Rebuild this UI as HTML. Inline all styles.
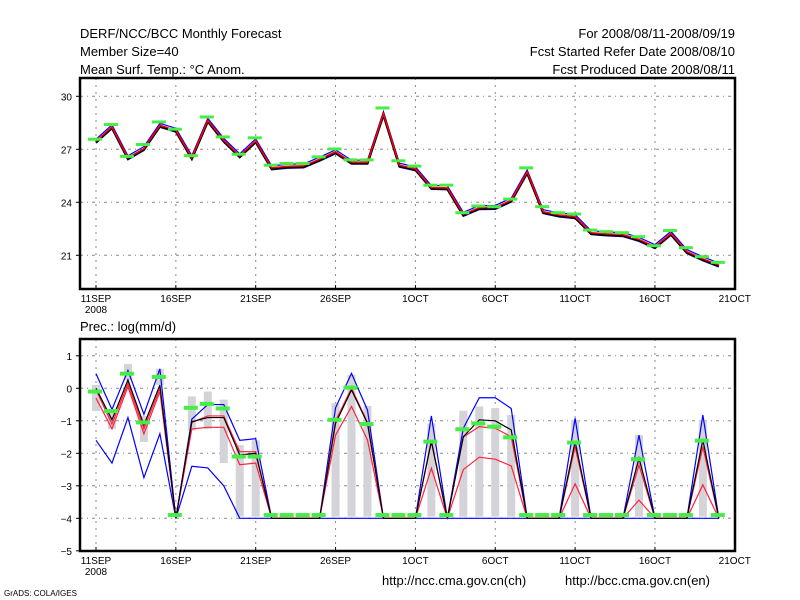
<!DOCTYPE html>
<html><head><meta charset="utf-8"><style>
body{margin:0;background:#fff;}
svg{display:block;font-family:"Liberation Sans",sans-serif;}
.t{font-size:13px;fill:#000;}
.s{font-size:10px;fill:#000;}
</style></head><body>
<svg id="c" width="800" height="600" xmlns="http://www.w3.org/2000/svg">
<rect width="800" height="600" fill="#fff"/>
<text class="t" x="80" y="38">DERF/NCC/BCC Monthly Forecast</text>
<text class="t" x="80" y="56">Member Size=40</text>
<text class="t" x="80" y="74">Mean Surf. Temp.: °C Anom.</text>
<text class="t" x="735" y="38" text-anchor="end">For 2008/08/11-2008/09/19</text>
<text class="t" x="735" y="56" text-anchor="end">Fcst Started Refer Date 2008/08/10</text>
<text class="t" x="735" y="74" text-anchor="end">Fcst Produced Date 2008/08/11</text>
<text class="t" x="80" y="331">Prec.: log(mm/d)</text>
<text class="t" x="382" y="585">http://ncc.cma.gov.cn(ch)</text>
<text class="t" x="565" y="585">http://bcc.cma.gov.cn(en)</text>
<text x="4" y="596" style="font-size:8px">GrADS: COLA/IGES</text>
<g id="top"></g><g id="bot"></g>
</svg>
<script>
const xLabels=["11SEP","16SEP","21SEP","26SEP","1OCT","6OCT","11OCT","16OCT","21OCT"];
const tTicks=[30,27,24,21];
const pTicks=[1,0,-1,-2,-3,-4,-5];
const tMean=[27.46,28.27,26.52,27.04,28.36,28.08,26.53,28.64,27.51,26.63,27.48,25.95,26.04,26.06,26.44,26.86,26.27,26.27,29.02,26.1,25.9,24.84,24.82,23.32,23.7,23.71,24.12,25.72,23.47,23.28,23.19,22.28,22.21,22.17,21.9,21.49,22.24,21.21,20.8,20.45];
const tObs=[27.57,28.4,26.6,27.27,28.55,28.14,26.64,28.83,27.7,26.72,27.65,26.1,26.2,26.2,26.57,27.02,26.4,26.4,29.34,26.35,26.05,24.97,24.97,23.41,23.79,23.75,24.18,25.95,23.75,23.41,23.34,22.43,22.34,22.28,22.05,21.54,22.4,21.43,20.92,20.6];
const N=null;
const pMean=[0,-0.97,0.26,-1.13,0.1,-4,-1.03,-0.9,-0.9,-2.05,-2.0,-4,-4,-4,-4,-1.08,-0.05,-1.08,-4,-4,-4,-1.64,-4,-1.49,-0.97,-1.0,-1.28,-4,-4,-4,-1.64,-4,-4,-4,-2.15,-4,-4,-4,-1.59,-4];
const pRedHi=[-0.05,-1.1,0.15,-1.25,0,-4,-1.05,-0.85,-0.85,-1.95,-1.95,-4,-4,-4,-4,-1.0,0,-1.05,-4,-4,-4,-1.6,-4,-1.5,-1.18,-1.23,-1.49,-4,-4,-4,-1.8,-4,-4,-4,-2.36,-4,-4,-4,-1.8,-4];
const pRedLo=[-0.3,-1.25,0.05,-1.4,-0.1,-4,-1.25,-1.2,-1.2,-2.35,-2.3,-4,-4,-4,-4,-1.44,-0.56,-1.59,-4,-4,-4,-2.46,-4,-2.5,-2.12,-2.18,-2.39,-4,-4,-4,-2.94,-4,-4,-4,-3.44,-4,-4,-4,-2.97,-4];
const pBlueHi=[0.45,-0.65,0.55,-0.8,0.6,-4,-0.95,-0.5,-0.5,-1.6,-1.55,-4,-4,-4,-4,-0.6,0.46,-0.67,-4,-4,-4,-0.85,-4,-1.23,-0.29,-0.29,-0.62,-4,-4,-4,-0.92,-4,-4,-4,-1.44,-4,-4,-4,-0.82,-4];
const pBlueLo=[-1.6,-2.3,-0.9,-2.75,-1.4,-4,-2.4,-2.45,-3.0,-4,-4,-4,-4,-4,-4,-4,-4,-4,-4,-4,-4,-4,-4,-4,-4,-4,-4,-4,-4,-4,-4,-4,-4,-4,-4,-4,-4,-4,-4,-4];
const pObs=[-0.1,-0.7,0.45,-1.05,0.35,-3.9,-0.6,-0.48,-0.62,-2.1,-2.1,-3.9,-3.9,-3.9,-3.9,-0.97,0.02,-1.1,-3.9,-3.9,-3.9,-1.64,-3.9,-1.26,-1.08,-1.18,-1.51,-3.9,-3.9,-3.9,-1.67,-3.9,-3.9,-3.9,-2.18,-3.9,-3.9,-3.9,-1.61,-3.9];
const pBoxTop=[0.1,-0.7,0.75,-0.85,0.6,N,-0.25,-0.1,-0.35,-1.75,-1.6,N,N,N,N,-0.46,0.41,-0.54,N,N,N,-1.08,N,-0.69,-0.56,-0.61,-0.82,N,N,N,-0.97,N,N,N,-1.44,N,N,N,-0.97,N];
const pBoxBot=[-0.7,-1.25,0.25,-1.65,0.1,N,-1.3,-1.25,-2.3,-3.95,-3.95,N,N,N,N,-3.95,-3.95,-3.95,N,N,N,-3.95,N,-3.95,-3.95,-3.95,-3.95,N,N,N,-3.95,N,N,N,-3.95,N,N,N,-3.95,N];

const NS="http://www.w3.org/2000/svg";
function mk(p,tag,a){const e=document.createElementNS(NS,tag);for(const k in a)e.setAttribute(k,a[k]);p.appendChild(e);return e;}
const X=d=>96+d*15.97;
const tY=v=>96.3+(30-v)*53/3;
const pY=v=>388.3-v*32.5;
const L=80,R=735;
function grid(g,top,bot,yvals,yf,nm){
  xLabels.forEach((s,i)=>{const x=X(i*5);
    if(i<8){const ln=mk(g,'line',{x1:x,x2:x,y1:top,y2:bot,stroke:'#888','stroke-dasharray':'2,5'});
    }
    const tk=mk(g,'line',{x1:x,x2:x,y1:bot-4,y2:bot,stroke:'#000'});
    
    const t=mk(g,'text',{x:x,y:bot+13,'text-anchor':'middle',class:'s'});t.textContent=s;
    });
  const y2=mk(g,'text',{x:X(0),y:bot+24,'text-anchor':'middle',class:'s'});y2.textContent='2008';
  
  yvals.forEach(v=>{const y=yf(v);
    const ln=mk(g,'line',{x1:L,x2:R,y1:y,y2:y,stroke:'#888','stroke-dasharray':'3,4,1,4'});
    
    const tk=mk(g,'line',{x1:L-4,x2:L,y1:y,y2:y,stroke:'#000'});
    
    const t=mk(g,'text',{x:L-8,y:y+4,'text-anchor':'end',class:'s'});t.textContent=v<0?'−'+(-v):String(v);
    });
}
function line(g,arr,yf,col,w,nm,dy){
  const pts=arr.map((v,i)=>X(i)+','+(yf(v)+(dy||0))).join(' ');
  const p=mk(g,'polyline',{points:pts,fill:'none',stroke:col,'stroke-width':w,'stroke-linejoin':'miter'});
  
}
// top panel
const gt=document.getElementById('top');
grid(gt,78,289,tTicks,tY,'temp');
line(gt,tMean,tY,'#0000ff',1.2,'temp-ensemble-max',-2);
line(gt,tMean,tY,'#0000ff',1.2,'temp-ensemble-min',2);
line(gt,tMean,tY,'#000',2.5,'temp-ensemble-mean',1);
line(gt,tMean,tY,'#ff0000',1.5,'temp-median',0);
tObs.forEach((v,i)=>{const r=mk(gt,'rect',{x:X(i)-8,y:tY(v)-1.5,width:14,height:3,fill:'#44ee44'});
  });
const ft=mk(gt,'rect',{x:L,y:78,width:R-L,height:211,fill:'none',stroke:'#000','stroke-width':2.5});

// bottom panel
const gb=document.getElementById('bot');
grid(gb,339,551,pTicks,pY,'prec');
pBoxTop.forEach((v,i)=>{if(v===null)return;const b=pBoxBot[i];
  const r=mk(gb,'rect',{x:X(i)-4,y:pY(v),width:8,height:pY(b)-pY(v),fill:'#d3d3d8'});
  });
line(gb,pBlueLo,pY,'#0000ff',1.2,'prec-ensemble-min');
line(gb,pBlueHi,pY,'#0000ff',1.2,'prec-ensemble-max');
line(gb,pRedLo,pY,'#ff2040',1.2,'prec-lower-quartile');
line(gb,pRedHi,pY,'#ff2040',1.2,'prec-upper-quartile');
line(gb,pMean,pY,'#000',1.2,'prec-ensemble-mean');
pObs.forEach((v,i)=>{const r=mk(gb,'rect',{x:X(i)-8,y:pY(v)-2,width:14,height:4,fill:'#44ee44'});
  });
const fb=mk(gb,'rect',{x:L,y:339,width:R-L,height:212,fill:'none',stroke:'#000','stroke-width':2.5});

</script>
</body></html>
